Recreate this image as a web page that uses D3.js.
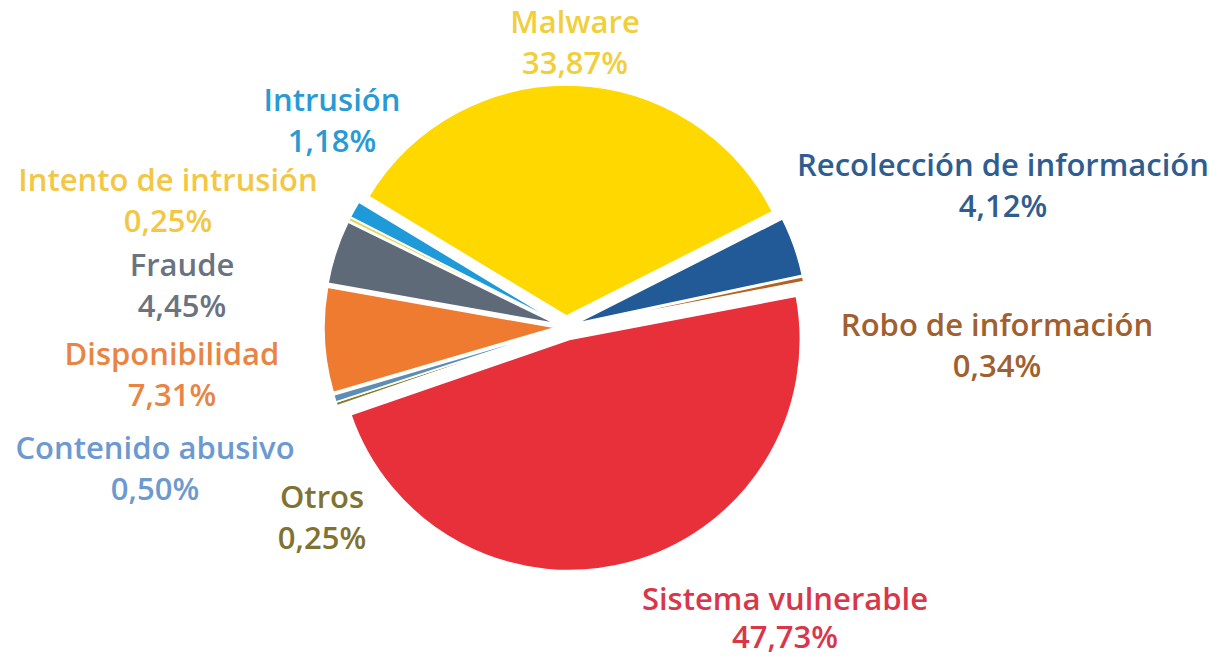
<!DOCTYPE html>
<html>
<head>
<meta charset="utf-8">
<script src="https://cdn.jsdelivr.net/npm/d3@7"></script>
<style>
  html, body { margin: 0; padding: 0; background: #ffffff; }
  svg { display: block; }
</style>
</head>
<body>
<div id="chart"></div>
<script>
// Datos del gráfico (porcentaje de incidentes por categoría)
const categories = [
  'Malware', 'Recolección de información', 'Robo de información', 'Sistema vulnerable',
  'Otros', 'Contenido abusivo', 'Disponibilidad', 'Fraude', 'Intento de intrusión', 'Intrusión'
];
const values = [33.87, 4.12, 0.34, 47.73, 0.25, 0.50, 7.31, 4.45, 0.25, 1.18];
const valueLabels = ['33,87%', '4,12%', '0,34%', '47,73%', '0,25%', '0,50%', '7,31%', '4,45%', '0,25%', '1,18%'];

// Colores de las porciones y de las etiquetas
const sliceColors = ['#ffd800', '#215a96', '#b4621f', '#e8303a', '#8a7b2c', '#5c8db5', '#ee7b2f', '#5f6a78', '#e6d65c', '#1e9ad8'];
const labelColors = ['#f1cf3c', '#2f5d8f', '#a0602f', '#d9364a', '#7e7330', '#6c9ad0', '#e98544', '#6b7380', '#f2c744', '#2a9ad4'];

// Posición de las etiquetas (centro de la primera línea)
const labelPos = {
  'Malware': [575, 22],
  'Recolección de información': [1003, 165],
  'Robo de información': [997, 325],
  'Sistema vulnerable': [785, 599],
  'Otros': [322, 497],
  'Contenido abusivo': [155, 448],
  'Disponibilidad': [172, 354],
  'Fraude': [182, 265],
  'Intento de intrusión': [168, 180],
  'Intrusión': [332, 100]
};

const width = 1218;
const height = 658;
const cx = 566;
const cy = 327;
const radius = 231;
const lineGap = 41;

const data = categories.map((c, i) => ({
  name: c,
  value: values[i],
  text: valueLabels[i],
  color: sliceColors[i],
  labelColor: labelColors[i],
  explode: c === 'Sistema vulnerable' ? 13 : 11
}));

const svg = d3.select('#chart')
  .append('svg')
  .attr('width', width)
  .attr('height', height);

const start = -58.8 * Math.PI / 180;
const pie = d3.pie()
  .sort(null)
  .value((d) => d.value)
  .startAngle(start)
  .endAngle(start + 2 * Math.PI);

const arc = d3.arc().innerRadius(0).outerRadius(radius);

const g = svg.append('g').attr('transform', `translate(${cx},${cy})`);

// Porciones separadas del centro
g.selectAll('path')
  .data(pie(data))
  .enter()
  .append('path')
  .attr('d', arc)
  .attr('transform', (d) => {
    const mid = (d.startAngle + d.endAngle) / 2;
    const e = d.data.explode;
    return `translate(${Math.sin(mid) * e},${-Math.cos(mid) * e})`;
  })
  .style('fill', (d) => d.data.color)
  .style('stroke', '#ffffff')
  .style('stroke-width', 1.5)
  .style('stroke-linejoin', 'round');

// Etiquetas: nombre y porcentaje
const labels = svg.append('g')
  .style('font-family', '"Open Sans", sans-serif')
  .style('font-size', '31px')
  .style('font-weight', 600)
  .style('text-anchor', 'middle');

data.forEach((d) => {
  const [x, y] = labelPos[d.name];
  const t = labels.append('text')
    .attr('x', x)
    .attr('y', y)
    .attr('dy', '0.35em')
    .style('fill', d.labelColor);
  t.append('tspan').attr('x', x).text(d.name);
  t.append('tspan').attr('x', x).attr('dy', d.name === 'Sistema vulnerable' ? 38 : lineGap).text(d.text);
});
</script>
</body>
</html>
